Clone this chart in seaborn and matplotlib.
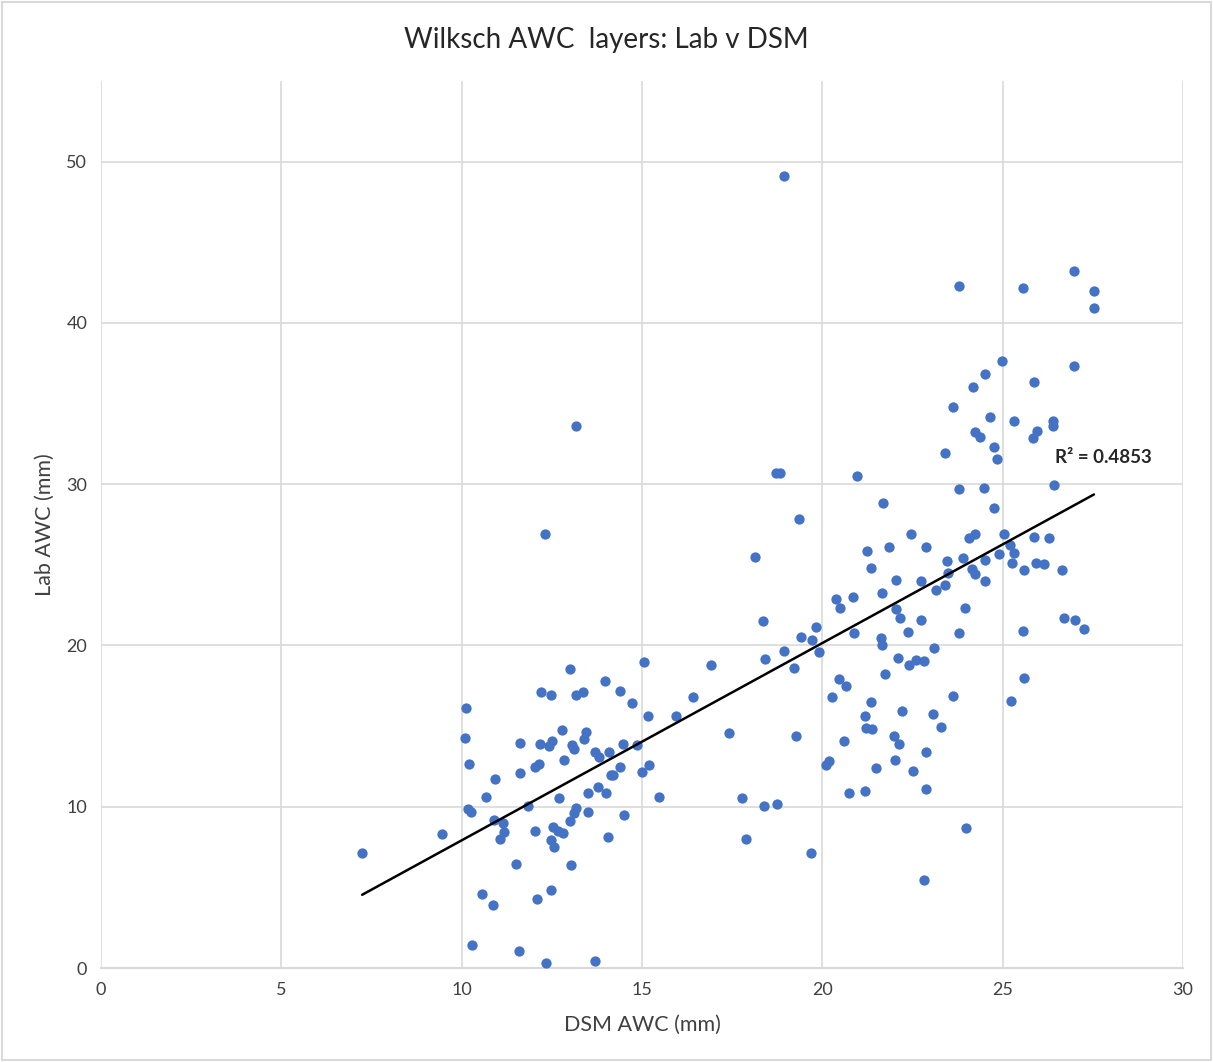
import numpy as np
import pandas as pd
import matplotlib
matplotlib.use("Agg")
import matplotlib.pyplot as plt
import seaborn as sns

# DSM AWC (mm) values
dsm_awc = [
    7.24, 9.45, 10.12, 10.09, 10.20, 10.17, 10.26, 10.29, 10.56, 10.67,
    10.87, 10.90, 10.92, 11.15, 11.17, 11.06, 11.51, 11.59, 11.62, 11.62,
    11.84, 12.03, 12.14, 12.03, 12.09, 12.17, 12.20, 12.31, 12.34, 12.42,
    12.50, 12.48, 12.48, 12.53, 12.48, 12.56, 12.67, 12.70, 12.81, 12.78,
    12.84, 13.00, 13.00, 13.03, 13.06, 13.11, 13.17, 13.17, 13.36, 13.17,
    13.11, 13.45, 13.39, 13.50, 13.50, 13.70, 13.81, 13.78, 13.70, 13.97,
    14.00, 14.08, 14.14, 14.19, 14.06, 14.39, 14.39, 14.47, 14.50, 14.72,
    14.86, 15.00, 15.05, 15.16, 15.19, 15.47, 15.94, 16.41, 16.91, 17.41,
    17.77, 17.88, 18.13, 18.35, 18.41, 18.38, 18.74, 18.71, 18.82, 18.94,
    18.94, 19.21, 19.27, 19.35, 19.41, 19.71, 19.68, 19.82, 19.91, 20.10,
    20.18, 20.27, 20.38, 20.49, 20.46, 20.60, 20.65, 20.74, 20.88, 20.85,
    20.96, 21.18, 21.18, 21.24, 21.21, 21.35, 21.35, 21.38, 21.49, 21.62,
    21.65, 21.68, 21.65, 21.74, 21.85, 21.99, 22.04, 22.01, 22.04, 22.12,
    22.15, 22.10, 22.21, 22.37, 22.40, 22.46, 22.51, 22.60, 22.73, 22.73,
    22.82, 22.87, 22.87, 22.87, 22.82, 23.07, 23.09, 23.15, 23.40, 23.29,
    23.40, 23.45, 23.48, 23.62, 23.62, 23.79, 23.79, 23.79, 23.90, 23.95,
    23.98, 24.06, 24.18, 24.15, 24.23, 24.23, 24.23, 24.37, 24.51, 24.51,
    24.48, 24.51, 24.65, 24.76, 24.76, 24.84, 24.90, 24.98, 25.03, 25.20,
    25.26, 25.31, 25.31, 25.23, 25.56, 25.59, 25.56, 25.59, 25.87, 25.84,
    25.87, 25.95, 25.92, 26.14, 26.28, 26.39, 26.39, 26.42, 26.64, 26.70,
    26.98, 26.98, 27.00, 27.25, 27.53, 27.53,
]

# Lab AWC (mm) values
lab_awc = [
    7.12, 8.30, 16.11, 14.25, 12.64, 9.85, 9.67, 1.43, 4.58, 10.59,
    3.90, 9.17, 11.71, 8.98, 8.43, 7.99, 6.44, 1.05, 13.94, 12.08,
    10.04, 12.45, 12.64, 8.49, 4.28, 13.88, 17.10, 26.89, 0.31, 13.75,
    14.06, 16.91, 4.83, 8.74, 7.93, 7.50, 8.49, 10.53, 8.36, 14.75,
    12.89, 18.53, 9.11, 6.38, 13.82, 13.57, 33.64, 16.91, 17.10, 9.91,
    9.60, 14.62, 14.19, 10.84, 9.67, 13.38, 13.07, 11.21, 0.43, 17.78,
    10.84, 13.38, 11.96, 11.96, 8.12, 12.45, 17.16, 13.88, 9.48, 16.42,
    13.82, 12.14, 18.96, 15.61, 12.58, 10.59, 15.61, 16.79, 18.77, 14.56,
    10.53, 7.99, 25.46, 21.50, 19.14, 10.04, 10.16, 30.67, 30.67, 49.13,
    19.64, 18.59, 14.37, 27.82, 20.51, 20.32, 7.12, 21.13, 19.58, 12.58,
    12.83, 16.79, 22.86, 22.30, 17.91, 14.06, 17.47, 10.84, 20.76, 22.99,
    30.48, 15.61, 10.97, 25.84, 14.87, 24.78, 16.48, 14.81, 12.39, 20.45,
    20.01, 28.81, 23.23, 18.22, 26.08, 14.37, 22.24, 12.89, 24.04, 13.88,
    21.69, 19.21, 15.92, 20.82, 18.77, 26.89, 12.21, 19.08, 23.98, 21.56,
    19.02, 26.08, 13.38, 11.09, 5.45, 15.74, 19.83, 23.42, 23.73, 14.93,
    31.91, 25.22, 24.47, 34.76, 16.85, 29.68, 20.76, 42.26, 25.40, 22.30,
    8.67, 26.64, 36.00, 24.72, 26.89, 33.21, 24.41, 32.90, 23.98, 25.28,
    29.74, 36.86, 34.14, 32.28, 28.50, 31.54, 25.65, 37.67, 26.89, 26.21,
    25.09, 25.71, 33.95, 16.54, 20.88, 17.97, 42.19, 24.66, 36.31, 32.84,
    26.70, 33.27, 25.09, 25.03, 26.64, 33.95, 33.58, 29.93, 24.66, 21.69,
    43.25, 37.30, 21.56, 21.00, 41.95, 40.95,
]

x_ticks = [0, 5, 10, 15, 20, 25, 30]
y_ticks = [0, 10, 20, 30, 40, 50]
title_text = "Wilksch AWC  layers: Lab v DSM"
x_label = "DSM AWC (mm)"
y_label = "Lab AWC (mm)"
r2_text = "R² = 0.4853"

df = pd.DataFrame({"dsm": dsm_awc, "lab": lab_awc})

sns.set_theme(style="white")
plt.rcParams["font.family"] = ["Lato", "DejaVu Sans"]

fig = plt.figure(figsize=(12.13, 10.62), dpi=100)
ax = fig.add_axes([0.0833, 0.0885, 0.8920, 0.8352])

sns.scatterplot(data=df, x="dsm", y="lab", ax=ax, color="#4472C4",
                s=55, linewidth=0, zorder=3)
sns.regplot(data=df, x="dsm", y="lab", ax=ax, scatter=False, ci=None,
            truncate=True, line_kws={"color": "black", "linewidth": 1.8, "zorder": 4})

ax.set_xlim(0, 30)
ax.set_ylim(0, 55)
ax.set_xticks(x_ticks)
ax.set_yticks(y_ticks)
ax.tick_params(axis="both", labelsize=13, colors="#404040", length=0, pad=10)
ax.grid(True, color="#d9d9d9", linewidth=1.2, zorder=0)
ax.set_axisbelow(True)
for side in ["top", "right", "left"]:
    ax.spines[side].set_visible(False)
ax.spines["bottom"].set_color("#d9d9d9")
ax.spines["bottom"].set_linewidth(1.5)

ax.set_xlabel(x_label, fontsize=15.5, color="#404040", labelpad=12)
ax.set_ylabel(y_label, fontsize=15.5, color="#404040", labelpad=8)

fig.text(0.5, 0.962, title_text, ha="center", va="center", fontsize=20, color="#262626")

ax.text(26.45, 31.65, r2_text, fontsize=13.5, fontweight="bold", color="#262626",
        ha="left", va="center")

border = plt.Rectangle((0.002, 0.002), 0.996, 0.996, transform=fig.transFigure,
                       fill=False, edgecolor="#d9d9d9", linewidth=1.5)
fig.patches.append(border)

fig.savefig("out.png", dpi=100, facecolor="white")
